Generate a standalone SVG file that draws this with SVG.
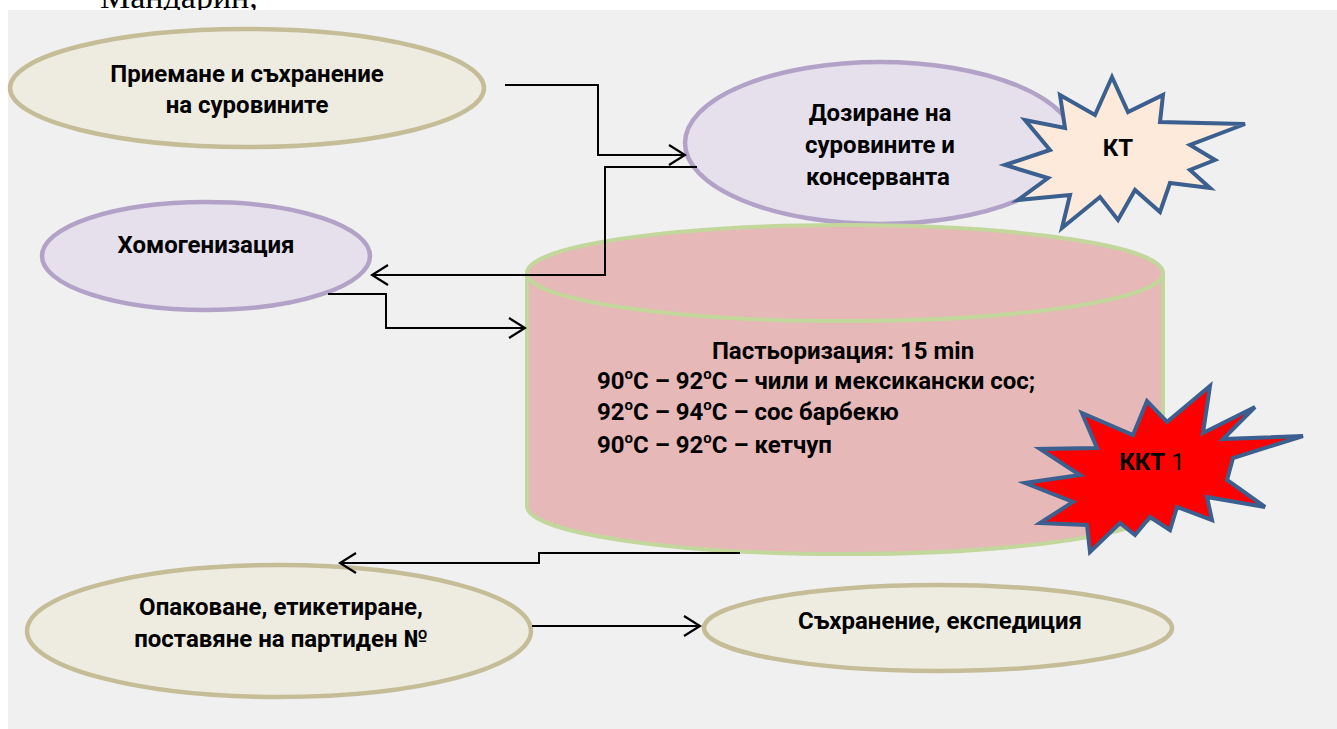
<svg xmlns="http://www.w3.org/2000/svg" width="1337" height="729" viewBox="0 0 1337 729">
<defs>
<style>
.t{font-family:Roboto,"Open Sans","Liberation Sans",sans-serif;font-weight:700;font-size:24px;fill:#000;text-anchor:middle;dominant-baseline:central}
.tl{text-anchor:start}
.beige{fill:#eeece1;stroke:#c4bd97;stroke-width:4.5}
.lav{fill:#e5e0ec;stroke:#b3a2c7;stroke-width:4.5}
.cyl{fill:#e6b9b8;stroke:#c3d69b;stroke-width:4}
.star{stroke:#3b5f8e;stroke-width:4;stroke-linejoin:miter}
.con{fill:none;stroke:#000;stroke-width:2}
.sup{font-size:15px}
</style>
<marker id="arr" markerUnits="userSpaceOnUse" viewBox="0 0 20 24" refX="18" refY="12" markerWidth="20" markerHeight="24" orient="auto">
<path d="M2,2 L18,12 L2,22" fill="none" stroke="#000" stroke-width="2.2"/>
</marker>
</defs>
<rect width="1337" height="729" fill="#ffffff"/>
<text x="100" y="8" font-family="'Liberation Serif',serif" font-size="34" fill="#000">Мандарин,</text>
<rect x="8" y="10" width="1329" height="719" fill="#f0f0f0"/>

<g id="n-priemane">
<ellipse class="beige" cx="247" cy="88" rx="237" ry="59"/>
<text class="t" x="247" y="74">Приемане и съхранение</text>
<text class="t" x="247" y="105">на суровините</text>
</g>

<g id="n-dozirane">
<ellipse class="lav" cx="880" cy="143" rx="195" ry="81"/>
<text class="t" x="880" y="113">Дозиране на</text>
<text class="t" x="880" y="145">суровините и</text>
<text class="t" x="878" y="177">консерванта</text>
</g>

<g id="n-kt">
<polygon class="star" fill="#fdeada" points="1112,77 1128,112 1163,95 1160,122 1245,124 1190,145 1215,160 1190,170 1210,188 1170,183 1160,212 1135,190 1118,220 1100,197 1062,228 1070,195 1018,200 1048,178 1005,165 1050,150 1025,120 1065,128 1060,95 1095,115"/>
<text class="t" x="1118" y="148">КТ</text>
</g>

<g id="n-homogenizacia">
<ellipse class="lav" cx="206" cy="256" rx="164" ry="54"/>
<text class="t" x="206" y="245">Хомогенизация</text>
</g>

<g id="n-pasteurizacia">
<path class="cyl" d="M527,273 L527,506 A318,48 0 0 0 1163,506 L1163,273 Z"/>
<ellipse class="cyl" cx="845" cy="273" rx="318" ry="48"/>
<text class="t" x="843" y="351">Пастьоризация: 15 min</text>
<text class="t tl" x="597" y="381">90<tspan class="sup" dy="-7">о</tspan><tspan dy="7">С – 92</tspan><tspan class="sup" dy="-7">о</tspan><tspan dy="7">С – чили и мексикански сос;</tspan></text>
<text class="t tl" x="597" y="412">92<tspan class="sup" dy="-7">о</tspan><tspan dy="7">С – 94</tspan><tspan class="sup" dy="-7">о</tspan><tspan dy="7">С – сос барбекю</tspan></text>
<text class="t tl" x="597" y="445">90<tspan class="sup" dy="-7">о</tspan><tspan dy="7">С – 92</tspan><tspan class="sup" dy="-7">о</tspan><tspan dy="7">С – кетчуп</tspan></text>
</g>

<g id="n-kkt">
<polygon class="star" fill="#ff0000" points="1210,386 1203,433 1255,407 1223,439 1303,436 1233,458 1227,480 1265,507 1207,497 1212,520 1177,507 1170,530 1150,517 1135,535 1120,523 1090,552 1087,525 1040,523 1073,502 1025,483 1080,475 1040,449 1097,448 1082,413 1133,435 1147,401 1167,422"/>
<text class="t" x="1152" y="462">ККТ<tspan font-weight="400"> 1</tspan></text>
</g>

<g id="n-opakovane">
<ellipse class="beige" cx="279" cy="631" rx="252" ry="66"/>
<text class="t" x="281" y="607">Опаковане, етикетиране,</text>
<text class="t" x="281" y="639">поставяне на партиден №</text>
</g>

<g id="n-sahranenie">
<ellipse class="beige" cx="938" cy="628" rx="234" ry="43"/>
<text class="t" x="940" y="621">Съхранение, експедиция</text>
</g>

<g id="connectors">
<polyline class="con" points="505,85 598,85 598,155 685,155" marker-end="url(#arr)"/>
<polyline class="con" points="697,167 605,167 605,275 372,275" marker-end="url(#arr)"/>
<polyline class="con" points="328,294 386,294 386,328 525,328" marker-end="url(#arr)"/>
<polyline class="con" points="740,553 539,553 539,563 340,563" marker-end="url(#arr)"/>
<polyline class="con" points="532,626 700,626" marker-end="url(#arr)"/>
</g>
</svg>
